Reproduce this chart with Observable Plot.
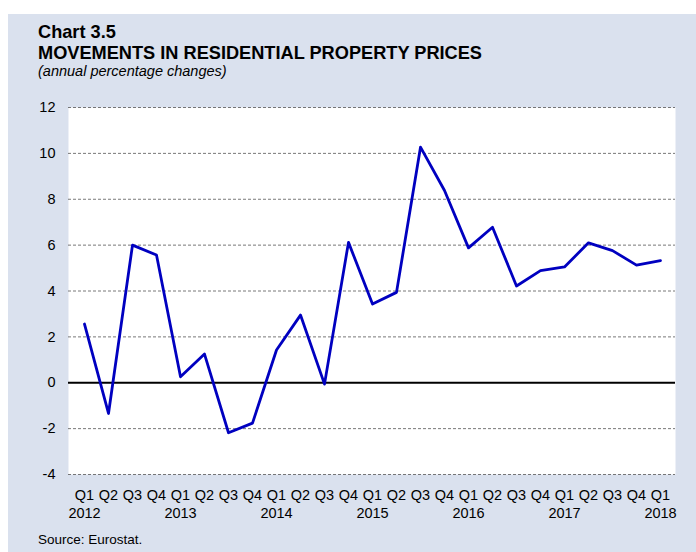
<!DOCTYPE html>
<html><head><meta charset="utf-8">
<script src="https://cdn.jsdelivr.net/npm/d3@7"></script>
<script src="https://cdn.jsdelivr.net/npm/@observablehq/plot@0.6"></script>
<style>
body{margin:0;background:#fff;font-family:"Liberation Sans",Arial,sans-serif;}
#panel{position:absolute;left:8px;top:14px;width:688px;height:538px;background:#dae1ee;}
.t{position:absolute;left:30px;color:#000;white-space:nowrap;line-height:0.8;}
#chart{position:absolute;left:0;top:76px;}
</style></head><body>
<div id="panel">
  <div class="t" style="top:11.4px;font-size:18.2px;font-weight:bold;">Chart 3.5</div>
  <div class="t" style="top:31.8px;font-size:18.2px;font-weight:bold;">MOVEMENTS IN RESIDENTIAL PROPERTY PRICES</div>
  <div class="t" style="top:51.8px;font-size:14.5px;font-style:italic;">(annual percentage changes)</div>
  <div id="chart"></div>
  <div class="t" style="top:521px;font-size:13.5px;">Source: Eurostat.</div>
</div>
<script>
const periods = [
  "2012 Q1","2012 Q2","2012 Q3","2012 Q4",
  "2013 Q1","2013 Q2","2013 Q3","2013 Q4",
  "2014 Q1","2014 Q2","2014 Q3","2014 Q4",
  "2015 Q1","2015 Q2","2015 Q3","2015 Q4",
  "2016 Q1","2016 Q2","2016 Q3","2016 Q4",
  "2017 Q1","2017 Q2","2017 Q3","2017 Q4",
  "2018 Q1"
];
const values = [
  2.56, -1.34, 6.00, 5.57,
  0.26, 1.25, -2.18, -1.76,
  1.43, 2.95, -0.06, 6.12,
  3.43, 3.94, 10.27, 8.38,
  5.88, 6.78, 4.22, 4.89,
  5.05, 6.10, 5.76, 5.13,
  5.32
];
const yTicks = [-4, -2, 0, 2, 4, 6, 8, 10, 12];

const data = periods.map((p, i) => ({period: p, value: values[i]}));
const tickLabel = (d) => {
  const [yr, q] = d.split(" ");
  return q === "Q1" ? q + "\n" + yr : q;
};

const chart = Plot.plot({
  width: 688, height: 435,
  marginLeft: 60, marginRight: 21, marginTop: 17, marginBottom: 51,
  style: {fontFamily: "'Liberation Sans', Arial, sans-serif", fontSize: "14.5px", color: "#000", background: "transparent", overflow: "visible"},
  x: {type: "point", domain: periods, padding: 0.5, label: null},
  y: {domain: [-4, 12], label: null},
  marks: [
    Plot.frame({fill: "white", stroke: null}),
    Plot.gridY(yTicks.filter(v => v !== 0), {stroke: "#555", strokeOpacity: 1, strokeWidth: 0.8, strokeDasharray: "3,2"}),
    Plot.ruleY([0], {stroke: "#000", strokeWidth: 2}),
    Plot.axisY(yTicks, {tickSize: 0, tickPadding: 13, label: null, tickFormat: d => String(d), fontSize: 14.5, fill: "#000"}),
    Plot.axisX(periods, {tickSize: 0, tickPadding: 13, label: null, tickFormat: tickLabel, lineHeight: 1.25, lineAnchor: "top", fontSize: 14.5, fill: "#000"}),
    Plot.line(data, {x: "period", y: "value", stroke: "#0000c0", strokeWidth: 2.8})
  ]
});
document.getElementById("chart").appendChild(chart);
</script>
</body></html>
